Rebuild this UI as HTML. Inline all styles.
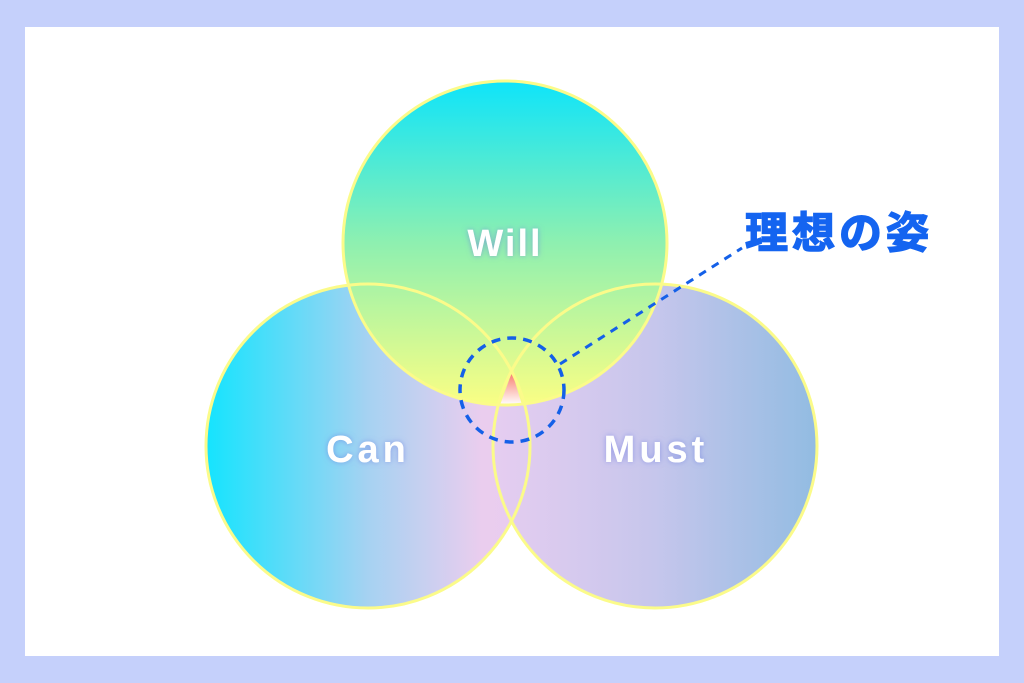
<!DOCTYPE html>
<html><head><meta charset="utf-8"><style>
html,body{margin:0;padding:0;background:#c5d0fb;overflow:hidden;}
</style></head><body>
<svg width="1024" height="683" viewBox="0 0 1024 683" xmlns="http://www.w3.org/2000/svg" style="display:block">
<defs>
<linearGradient id="gw" x1="0" y1="0" x2="0" y2="1"><stop offset="0" stop-color="#0ee4fa"/><stop offset="0.5" stop-color="#8ef0b0"/><stop offset="1" stop-color="#fafe84"/></linearGradient>
<linearGradient id="gc" x1="0" y1="0" x2="1" y2="0"><stop offset="0" stop-color="#14e4fe"/><stop offset="0.5" stop-color="#a6d2f2"/><stop offset="0.85" stop-color="#eacdee"/><stop offset="1" stop-color="#e8ccf0"/></linearGradient>
<linearGradient id="gm" x1="0" y1="0" x2="1" y2="0"><stop offset="0" stop-color="#e6cdf0"/><stop offset="0.5" stop-color="#c6c6ec"/><stop offset="1" stop-color="#92bce2"/></linearGradient>
<linearGradient id="gt" x1="0" y1="0" x2="0" y2="1"><stop offset="0" stop-color="#f87a6a"/><stop offset="1" stop-color="#ffffff"/></linearGradient>
<filter id="glow" x="-20%" y="-40%" width="140%" height="180%"><feGaussianBlur stdDeviation="3" result="b"/><feFlood flood-color="#6a7adf" flood-opacity="0.6"/><feComposite in2="b" operator="in"/><feMerge><feMergeNode/><feMergeNode in="SourceGraphic"/></feMerge></filter>
</defs>
<rect x="25" y="27" width="974" height="629" fill="#fff"/>
<circle cx="368" cy="446" r="162" fill="url(#gc)"/>
<circle cx="655" cy="446" r="162" fill="url(#gm)"/>
<circle cx="505" cy="243" r="162" fill="url(#gw)"/>
<path d="M512,372 L522,405 L500,405 Z" fill="url(#gt)"/>
<g fill="none" stroke="#fbfb8a" stroke-width="3">
<circle cx="368" cy="446" r="162"/>
<circle cx="655" cy="446" r="162"/>
<circle cx="505" cy="243" r="162"/>
</g>
<circle cx="512" cy="390" r="52" fill="none" stroke="#1460e8" stroke-width="3.5" stroke-dasharray="9,7"/>
<line x1="560" y1="364" x2="742" y2="248" stroke="#1460e8" stroke-width="3" stroke-dasharray="8,7"/>
<g font-family="Liberation Sans, sans-serif" font-weight="bold" fill="#fff" font-size="38" text-anchor="middle" filter="url(#glow)">
<text x="505" y="256" letter-spacing="2">Will</text>
<text x="368" y="462" letter-spacing="4">Can</text>
<text x="656" y="462" letter-spacing="4">Must</text>
</g>
<text x="745" y="248" font-family="Liberation Sans, Noto Sans CJK JP, sans-serif" font-weight="bold" font-size="43" letter-spacing="4" fill="#1464f0" stroke="#1464f0" stroke-width="1.5">理想の姿</text>
</svg>
</body></html>
